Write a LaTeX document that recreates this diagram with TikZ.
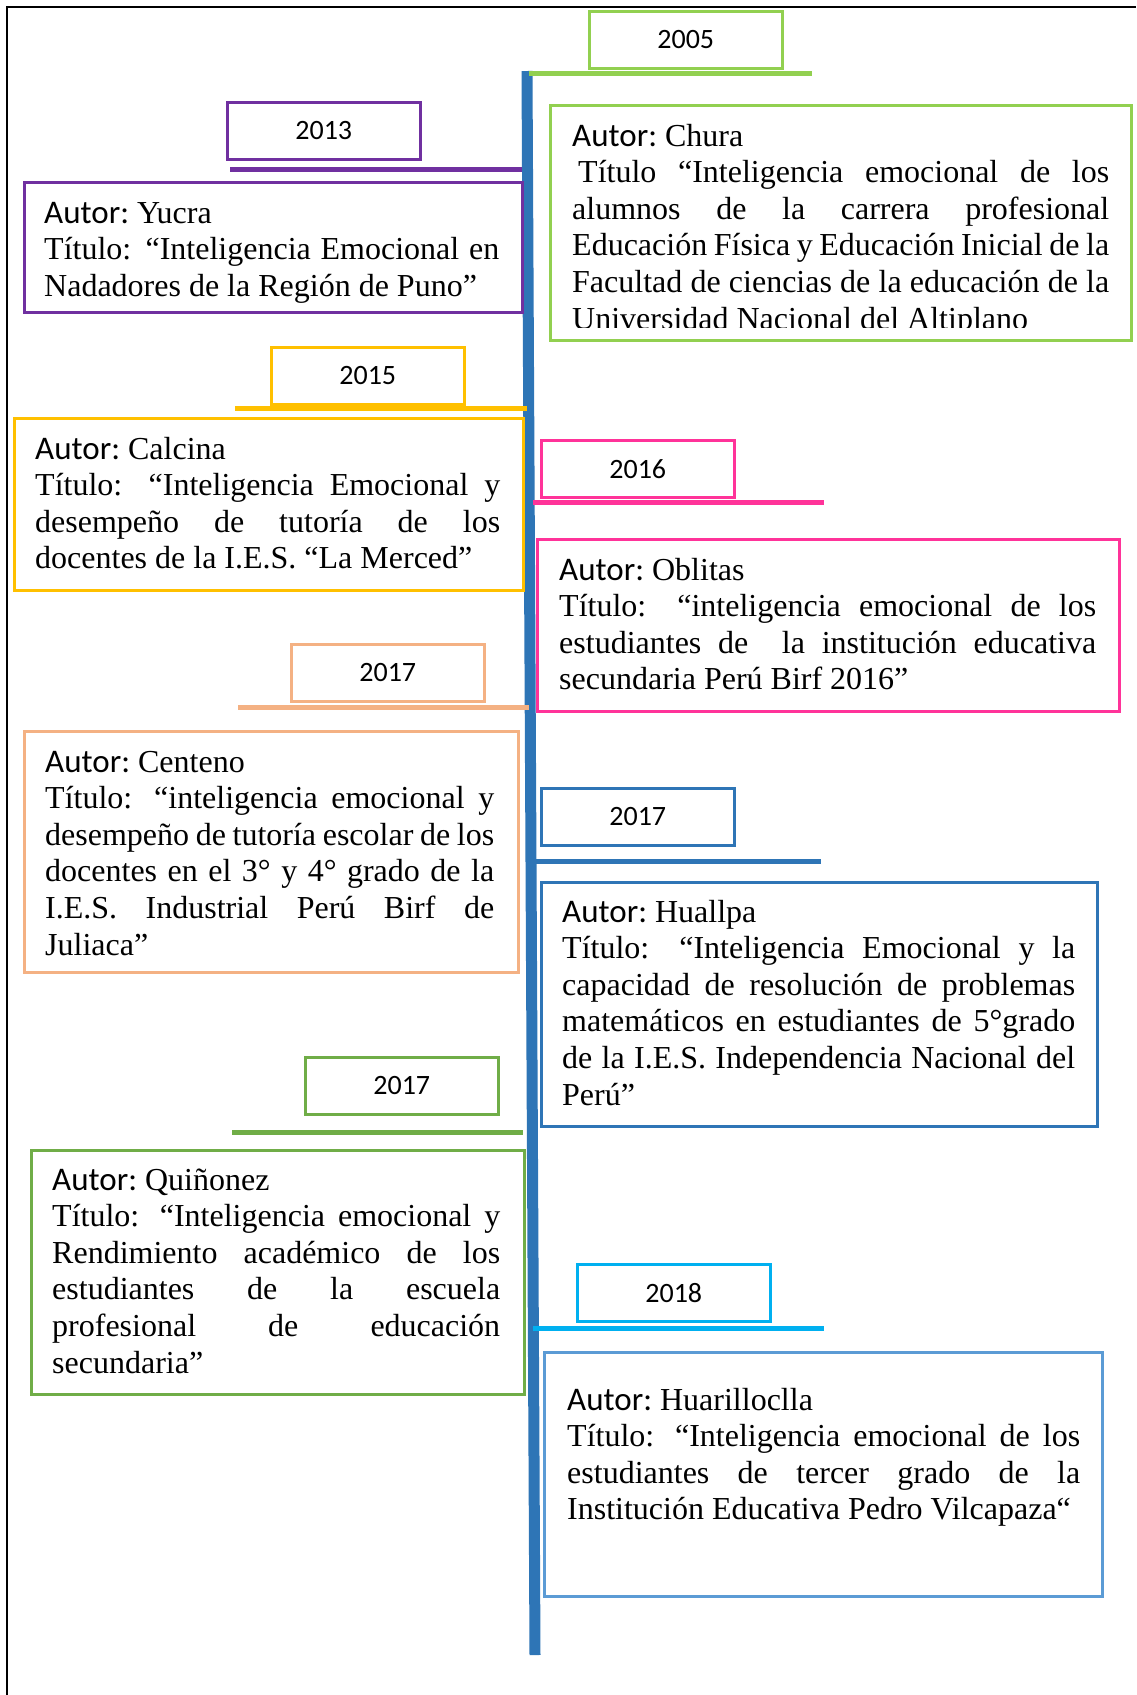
\documentclass[tikz,border=0pt]{standalone}
\usepackage{fontspec}
\setmainfont{Liberation Serif}
\newfontfamily\calfont{Carlito}
\definecolor{MyLime}{HTML}{92D050}
\definecolor{MyPurple}{HTML}{7030A0}
\definecolor{MyGold}{HTML}{FFC000}
\definecolor{MyPink}{HTML}{FF3399}
\definecolor{MyPeach}{HTML}{F4B183}
\definecolor{MyBlue}{HTML}{2E75B6}
\definecolor{MyGreen}{HTML}{70AD47}
\definecolor{MyCyan}{HTML}{00B0F0}
\definecolor{MySky}{HTML}{5B9BD5}
% one full (stretched) line of a justified paragraph
\newcommand{\jline}[1]{\makebox[\linewidth][s]{#1}\\}
\newcommand{\autor}{{\fontsize{33}{36.6}\calfont Autor:}\hspace{8pt}}

\begin{document}
\begin{tikzpicture}[x=1pt,y=-1pt,
			year/.style={draw=#1,line width=2.5pt,anchor=north west,minimum width=193pt,minimum height=57pt,inner sep=0pt,font=\fontsize{28}{32}\calfont},
			info/.style={draw=#1,line width=2.5pt,anchor=north west,inner sep=0pt},
			txt/.style={anchor=base west,inner sep=0pt,font=\fontsize{32}{36.6}\selectfont},
			bar/.style={draw=#1,line width=5pt}
		]
			\useasboundingbox (0,0) rectangle (1136,1695);
			\draw[line width=1.2pt] (7,1695) -- (7,7) -- (1136,7);

			% time line
			\draw[MyBlue,line width=11pt] (527,71) -- (535,1655);

			% years
			\node (y2005) [year=MyLime] at (588,10) {2005};
			\node (y2013) [year=MyPurple] at (226,101) {2013};
			\node (y2015) [year=MyGold] at (270,346) {2015};
			\node (y2016) [year=MyPink] at (540,439) {2016};
			\node (y2017a) [year=MyPeach] at (290,643) {2017};
			\node (y2017b) [year=MyBlue] at (540,787) {2017};
			\node (y2017c) [year=MyGreen] at (304,1056) {2017};
			\node (y2018) [year=MyCyan] at (576,1263) {2018};

			\draw[bar=MyLime] (529,73) -- (812,73);
			\draw[bar=MyPurple] (230,169) -- (522,169);
			\draw[bar=MyGold] (235,408.5) -- (527,408.5);
			\draw[bar=MyPink] (533,502.5) -- (824,502.5);
			\draw[bar=MyPeach] (238,707.5) -- (529,707.5);
			\draw[bar=MyBlue] (536,861) -- (821,861);
			\draw[bar=MyGreen] (232,1132.5) -- (523,1132.5);
			\draw[bar=MyCyan] (533,1328.5) -- (824,1328.5);

			% boxes
			\node (chura) [info=MyLime,minimum width=581pt,minimum height=235pt] at (549,104) {};
			\node (yucra) [info=MyPurple,minimum width=498pt,minimum height=130pt] at (23,181) {};
			\node (calcina) [info=MyGold,minimum width=509pt,minimum height=172pt] at (13,417) {};
			\node (oblitas) [info=MyPink,minimum width=582pt,minimum height=172pt] at (536,538) {};
			\node (centeno) [info=MyPeach,minimum width=494pt,minimum height=241pt] at (23,730) {};
			\node (huallpa) [info=MyBlue,minimum width=556pt,minimum height=244pt] at (540,881) {};
			\node (quinonez) [info=MyGreen,minimum width=493pt,minimum height=244pt] at (30,1149) {};
			\node (huari) [info=MySky,minimum width=558pt,minimum height=244pt] at (543,1351) {};

			\begin{scope}
				\clip (549,104) rectangle (1130,327);
				\node (churaT) [txt] at (572,146)
				{
					\begin{minipage}[t]{537pt}
						\autor Chura\\
						\jline{\hspace{6pt}Título “Inteligencia emocional de los}
						\jline{alumnos de la carrera profesional}
						\jline{Educación Física y Educación Inicial de la}
						\jline{Facultad de ciencias de la educación de la}
						Universidad Nacional del Altiplano
					\end{minipage}
				};
			\end{scope}

			\node (yucraT) [txt] at (44,223)
			{
				\begin{minipage}[t]{455pt}
					\autor Yucra\\
					\jline{Título: “Inteligencia Emocional en}
					Nadadores de la Región de Puno”
				\end{minipage}
			};
			\node (calcinaT) [txt] at (35,459)
			{
				\begin{minipage}[t]{465pt}
					\autor Calcina\\
					\jline{Título: “Inteligencia Emocional y}
					\jline{desempeño de tutoría de los}
					docentes de la I.E.S. “La Merced”
				\end{minipage}
			};
			\node (oblitasT) [txt] at (559,580)
			{
				\begin{minipage}[t]{537pt}
					\autor Oblitas\\
					\jline{Título: “inteligencia emocional de los}
					\jline{estudiantes de\ \ la institución educativa}
					secundaria Perú Birf 2016”
				\end{minipage}
			};
			\node (centenoT) [txt] at (45,772)
			{
				\begin{minipage}[t]{449pt}
					\autor Centeno\\
					\jline{Título: “inteligencia emocional y}
					\jline{desempeño de tutoría escolar de los}
					\jline{docentes en el 3° y 4° grado de la}
					\jline{I.E.S. Industrial Perú Birf de}
					Juliaca”
				\end{minipage}
			};
			\node (huallpaT) [txt] at (562,922)
			{
				\begin{minipage}[t]{513pt}
					\autor Huallpa\\
					\jline{Título: “Inteligencia Emocional y la}
					\jline{capacidad de resolución de problemas}
					\jline{matemáticos en estudiantes de 5°grado}
					\jline{de la I.E.S. Independencia Nacional del}
					Perú”
				\end{minipage}
			};
			\node (quinonezT) [txt] at (52,1190)
			{
				\begin{minipage}[t]{448pt}
					\autor Quiñonez\\
					\jline{Título: “Inteligencia emocional y}
					\jline{Rendimiento académico de los}
					\jline{estudiantes de la escuela}
					\jline{profesional de educación}
					secundaria”
				\end{minipage}
			};
			\node (huariT) [txt] at (567,1410)
			{
				\begin{minipage}[t]{513pt}
					\autor Huarilloclla\\
					\jline{Título: “Inteligencia emocional de los}
					\jline{estudiantes de tercer grado de la}
					Institución Educativa Pedro Vilcapaza“
				\end{minipage}
			};
		\end{tikzpicture}
\end{document}
